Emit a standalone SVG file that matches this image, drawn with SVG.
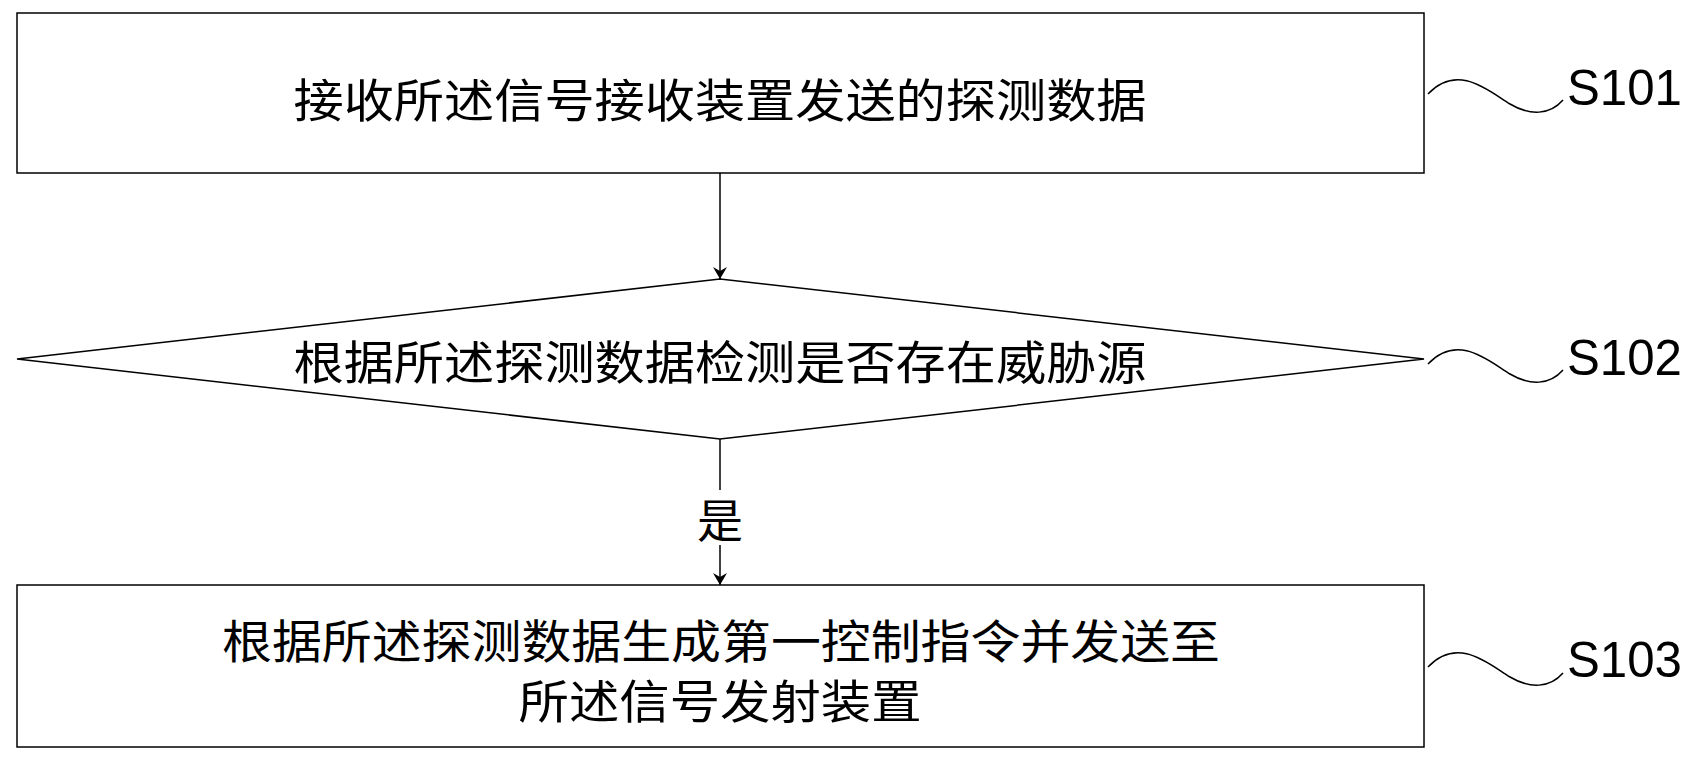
<svg xmlns="http://www.w3.org/2000/svg" width="1696" height="763" viewBox="0 0 1696 763">
<defs>
<style>
.n{fill:#fff;stroke:#000;stroke-width:1.5}
.t{font-family:"Noto Sans CJK SC","Liberation Sans",sans-serif;font-size:46px;fill:#000;text-anchor:middle;dominant-baseline:central}
.l{font-family:"Liberation Sans","DejaVu Sans",sans-serif;font-size:50px;fill:#000;dominant-baseline:central}
.c{fill:none;stroke:#000;stroke-width:1.5}
</style>
<marker id="a" markerWidth="12" markerHeight="14" refX="12" refY="7" orient="auto" markerUnits="userSpaceOnUse">
<path d="M0,0 L12,7 L0,14 L4,7 Z" fill="#000"/>
</marker>
</defs>
<rect width="1696" height="763" fill="#fff"/>
<g id="s101">
<rect class="n" x="17" y="13" width="1407" height="160"/>
<text class="t" x="720" y="97" textLength="853" lengthAdjust="spacingAndGlyphs">接收所述信号接收装置发送的探测数据</text>
</g>
<g id="s102">
<polygon class="n" points="17,359 720,279 1424,359 720,439"/>
<text class="t" x="720" y="359" textLength="853" lengthAdjust="spacingAndGlyphs">根据所述探测数据检测是否存在威胁源</text>
</g>
<g id="s103">
<rect class="n" x="17" y="585" width="1407" height="162"/>
<text class="t" x="721" y="638" textLength="998" lengthAdjust="spacingAndGlyphs">根据所述探测数据生成第一控制指令并发送至</text>
<text class="t" x="720" y="698" textLength="403" lengthAdjust="spacingAndGlyphs">所述信号发射装置</text>
</g>
<g id="connectors">
<line class="c" x1="720" y1="173" x2="720" y2="279" marker-end="url(#a)"/>
<line class="c" x1="720" y1="439" x2="720" y2="490"/>
<text class="t" x="720" y="517">是</text>
<line class="c" x1="720" y1="545" x2="720" y2="585" marker-end="url(#a)"/>
</g>
<g id="labels">
<path class="c" d="M1428,94 C1458,62 1490,92 1510,104 C1530,116 1550,115 1563,100"/>
<text class="l" x="1567" y="88" textLength="115" lengthAdjust="spacingAndGlyphs">S101</text>
<path class="c" d="M1428,364 C1458,332 1490,362 1510,374 C1530,386 1550,385 1563,370"/>
<text class="l" x="1567" y="358" textLength="115" lengthAdjust="spacingAndGlyphs">S102</text>
<path class="c" d="M1428,667 C1458,635 1490,665 1510,677 C1530,689 1550,688 1563,673"/>
<text class="l" x="1567" y="660" textLength="115" lengthAdjust="spacingAndGlyphs">S103</text>
</g>
</svg>
